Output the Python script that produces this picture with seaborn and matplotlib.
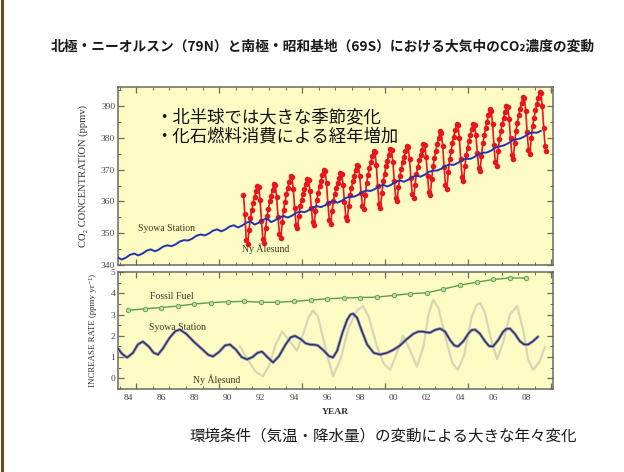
import matplotlib
matplotlib.use("Agg")
import matplotlib.pyplot as plt
from matplotlib.ticker import MultipleLocator, NullFormatter
from matplotlib.lines import Line2D
import seaborn as sns
import numpy as np
import pandas as pd

# ---------------------------------------------------------------- data
# Ny-Alesund (79N) monthly CO2, ppmv, starting June 1991
ny_start = "1991-06"
ny_co2 = [
    362.0, 356.0, 348.0, 346.5, 351.1, 354.8, 357.2,
    359.5, 361.3, 363.2, 365.0, 364.6, 360.5, 353.8, 348.3, 347.0, 351.6, 355.3, 357.7,
    360.0, 361.8, 363.7, 365.5, 365.1, 361.3, 355.0, 349.7, 348.5, 353.4, 357.3, 359.8,
    362.2, 364.1, 366.1, 368.0, 367.6, 363.9, 357.8, 352.7, 351.5, 355.4, 358.5, 360.5,
    362.4, 363.9, 365.5, 367.0, 366.6, 363.4, 358.0, 353.5, 352.5, 356.9, 360.4, 362.7,
    364.8, 366.5, 368.3, 370.0, 369.6, 365.8, 359.5, 354.2, 353.0, 357.0, 360.2, 362.3,
    364.2, 365.8, 367.4, 369.0, 368.6, 365.3, 359.7, 355.1, 354.0, 358.4, 361.9, 364.2,
    366.3, 368.0, 369.8, 371.5, 371.1, 368.0, 362.8, 358.5, 357.5, 362.1, 365.8, 368.2,
    370.5, 372.3, 374.2, 376.0, 375.6, 371.5, 364.8, 359.3, 358.0, 362.6, 366.3, 368.7,
    371.0, 372.8, 374.7, 376.5, 376.1, 372.4, 366.3, 361.2, 360.0, 364.4, 367.9, 370.2,
    372.3, 374.0, 375.8, 377.5, 377.1, 373.4, 367.3, 362.2, 361.0, 365.3, 368.7, 370.9,
    372.9, 374.6, 376.3, 378.0, 377.6, 374.0, 368.1, 363.1, 362.0, 367.0, 371.0, 373.6,
    376.0, 378.0, 380.0, 382.0, 381.6, 377.5, 370.8, 365.3, 364.0, 369.1, 373.2, 375.9,
    378.4, 380.4, 382.5, 384.5, 384.1, 380.0, 373.3, 367.8, 366.5, 371.0, 374.6, 376.9,
    379.1, 380.9, 382.7, 384.5, 384.1, 380.8, 375.2, 370.6, 369.5, 374.4, 378.3, 380.8,
    383.2, 385.1, 387.1, 389.0, 388.6, 384.5, 377.8, 372.3, 371.0, 375.8, 379.6, 382.0,
    384.3, 386.2, 388.1, 390.0, 389.6, 385.9, 379.8, 374.7, 373.5, 378.4, 382.3, 384.8,
    387.2, 389.1, 391.1, 393.0, 392.6, 388.5, 381.8, 376.3, 375.0, 379.9, 383.8, 386.3,
    388.7, 390.6, 392.6, 394.5, 394.1, 389.9, 383.0, 377.3, 376.0,
]

# Syowa Station (69S) CO2, ppmv, every three months from November 1983
syowa_start = "1983-11"
syowa_co2 = [
    342.4,
    341.7, 342.3, 343.2, 343.6,
    343.0, 343.6, 344.5, 344.9,
    344.3, 344.9, 345.8, 346.2,
    345.9, 346.5, 347.4, 347.8,
    347.7, 348.3, 349.2, 349.6,
    349.3, 349.9, 350.8, 351.2,
    350.6, 351.2, 352.1, 352.5,
    351.8, 352.4, 353.3, 353.7,
    352.7, 353.3, 354.2, 354.6,
    353.5, 354.1, 355.0, 355.4,
    354.9, 355.5, 356.4, 356.8,
    356.6, 357.2, 358.1, 358.5,
    358.2, 358.8, 359.7, 360.1,
    359.6, 360.2, 361.1, 361.5,
    361.5, 362.1, 363.0, 363.4,
    363.3, 363.9, 364.8, 365.2,
    364.7, 365.3, 366.2, 366.6,
    366.2, 366.8, 367.7, 368.1,
    367.8, 368.4, 369.3, 369.7,
    369.7, 370.3, 371.2, 371.6,
    371.5, 372.1, 373.0, 373.4,
    373.4, 374.0, 374.9, 375.3,
    375.4, 376.0, 376.9, 377.3,
    377.6, 378.2, 379.1, 379.5,
    379.8, 380.4, 381.3, 381.7,
    381.6, 382.2,
]

# CO2 increase expected from fossil fuel emissions, ppmv/yr
fossil_years = list(range(1984, 2009))
fossil_rate = [3.20, 3.27, 3.33, 3.40, 3.50, 3.56, 3.60, 3.62, 3.58, 3.58,
               3.62, 3.68, 3.74, 3.78, 3.80, 3.82, 3.90, 3.98, 4.02, 4.20,
               4.38, 4.52, 4.65, 4.72, 4.72]

# Growth rate at Syowa Station, ppmv/yr
syowa_rate_t = [1983.85, 1984.15, 1984.45, 1984.8, 1985.1, 1985.4, 1985.75, 1986.05,
                1986.31, 1986.6, 1987.0, 1987.35, 1987.63, 1988.0, 1988.5, 1989.0,
                1989.35, 1989.62, 1990.0, 1990.35, 1990.65, 1991.0, 1991.35, 1991.67,
                1992.0, 1992.3, 1992.57, 1992.9, 1993.24, 1993.6, 1994.0, 1994.3,
                1994.56, 1994.9, 1995.2, 1995.47, 1995.75, 1995.95, 1996.3, 1996.6,
                1996.85, 1997.1, 1997.4, 1997.7, 1997.9, 1998.06, 1998.3, 1998.6,
                1998.9, 1999.3, 1999.68, 2000.1, 2000.5, 2000.89, 2001.3, 2001.7,
                2002.0, 2002.27, 2002.5, 2002.7, 2003.0, 2003.3, 2003.6, 2003.9,
                2004.15, 2004.38, 2004.7, 2005.0, 2005.2, 2005.41, 2005.7, 2006.0,
                2006.25, 2006.49, 2006.8, 2007.1, 2007.3, 2007.51, 2007.8, 2008.1,
                2008.35, 2008.6, 2008.9, 2009.2]
syowa_rate = [1.45, 1.15, 0.98, 1.20, 1.60, 1.73, 1.50, 1.20,
              1.12, 1.40, 1.90, 2.22, 2.29, 2.10, 1.70, 1.35,
              1.10, 1.03, 1.25, 1.55, 1.59, 1.35, 1.00, 0.89,
              1.00, 1.20, 1.26, 1.00, 0.75, 1.05, 1.60, 1.93,
              2.00, 1.85, 1.65, 1.59, 1.58, 1.54, 1.30, 1.05,
              0.98, 1.30, 2.10, 2.75, 3.00, 3.04, 2.85, 2.20,
              1.60, 1.20, 1.12, 1.20, 1.35, 1.55, 1.85, 2.10,
              2.20, 2.20, 2.16, 2.15, 2.28, 2.34, 2.20, 1.80,
              1.55, 1.50, 1.75, 2.10, 2.27, 2.29, 2.10, 1.75,
              1.52, 1.50, 1.80, 2.20, 2.33, 2.34, 2.10, 1.75,
              1.60, 1.59, 1.75, 1.96]

# Growth rate at Ny-Alesund, ppmv/yr
ny_rate_t = [1991.25, 1991.7, 1992.2, 1992.63, 1993.0, 1993.4, 1993.78, 1994.2,
             1994.68, 1995.1, 1995.4, 1995.65, 1995.95, 1996.4, 1996.85, 1997.3,
             1997.8, 1998.3, 1998.66, 1999.0, 1999.5, 1999.9, 2000.29, 2000.7,
             2001.07, 2001.5, 2001.91, 2002.3, 2002.6, 2002.88, 2003.2, 2003.7,
             2004.05, 2004.38, 2004.75, 2005.2, 2005.5, 2005.71, 2006.0, 2006.35,
             2006.73, 2007.1, 2007.5, 2007.94, 2008.3, 2008.6, 2008.9, 2009.3, 2009.62]
ny_rate = [1.5, 0.9, 0.3, 0.1, 0.6, 1.6, 2.2, 1.8,
           1.3, 2.2, 2.9, 3.2, 2.9, 1.4, 0.1, 0.9,
           2.4, 3.2, 3.4, 2.9, 1.5, 0.7, 0.4, 1.2,
           2.0, 1.3, 0.55, 1.5, 3.0, 3.7, 3.3, 1.7,
           0.7, 0.4, 1.1, 2.9, 3.45, 3.55, 3.1, 1.9,
           0.9, 1.7, 3.0, 3.4, 2.3, 0.9, 0.4, 0.8, 1.5]

year_labels = ["84", "86", "88", "90", "92", "94", "96", "98",
               "00", "02", "04", "06", "08"]


def decimal_years(start, n, step_months):
    dates = pd.date_range(start=start, periods=n, freq=f"{step_months}MS")
    return dates.year + (dates.month - 0.5) / 12.0


ny_df = pd.DataFrame({"year": decimal_years(ny_start, len(ny_co2), 1), "co2": ny_co2})
syowa_df = pd.DataFrame({"year": decimal_years(syowa_start, len(syowa_co2), 3), "co2": syowa_co2})
fossil_df = pd.DataFrame({"year": np.array(fossil_years) + 0.5, "rate": fossil_rate})
syowa_rate_df = pd.DataFrame({"year": syowa_rate_t, "rate": syowa_rate})
ny_rate_df = pd.DataFrame({"year": ny_rate_t, "rate": ny_rate})

# ---------------------------------------------------------------- style
sns.set_theme(style="white")
plt.rcParams["font.family"] = ["Noto Sans CJK JP", "DejaVu Sans"]
SERIF = ["Liberation Serif", "DejaVu Serif"]
PANEL = "#fdfbc4"
SPINE = "#6a6a60"
INK = "#3c3a22"

fig = plt.figure(figsize=(6.24, 4.72), dpi=100)
fig.patch.set_facecolor("white")

# left frame line of the slide
fig.add_artist(Line2D([0.004, 0.004], [0, 1], transform=fig.transFigure,
                      color="#6b4a2a", lw=2.2))

ax1 = fig.add_axes([0.1891, 0.4386, 0.6971, 0.3771])
ax2 = fig.add_axes([0.1891, 0.1758, 0.6971, 0.2479])

for ax in (ax1, ax2):
    ax.set_facecolor(PANEL)
    ax.set_xlim(1983.9, 2010.1)
    for s in ax.spines.values():
        s.set_color(SPINE)
        s.set_linewidth(1.1)
    ax.xaxis.set_major_locator(MultipleLocator(5))
    ax.xaxis.set_minor_locator(MultipleLocator(1))
    ax.xaxis.set_major_formatter(NullFormatter())
    ax.tick_params(which="both", direction="in", top=True, right=True,
                   bottom=True, left=True, color=SPINE, labelcolor="#444444",
                   labelsize=6.8, pad=2)
    ax.tick_params(which="major", length=4, width=0.9)
    ax.tick_params(which="minor", length=2, width=0.7)

# ---------------------------------------------------------------- upper panel
sns.lineplot(data=ny_df, x="year", y="co2", ax=ax1, color="#e8161c", lw=1.2,
             marker="o", markersize=4.0, markeredgewidth=0, estimator=None, zorder=3)
sns.lineplot(data=syowa_df, x="year", y="co2", ax=ax1, color="#2233b0", lw=1.4,
             estimator=None, zorder=4)
ax1.set_ylim(340, 396)
ax1.yaxis.set_major_locator(MultipleLocator(10))
ax1.yaxis.set_minor_locator(MultipleLocator(5))
ax1.set_xlabel("")
ax1.set_ylabel("CO₂ CONCENTRATION (ppmv)", family=SERIF, fontsize=7.6,
               color="#333333", labelpad=9)
for lab in ax1.get_yticklabels():
    lab.set_family(SERIF)
ax1.text(1985.1, 351.6, "Syowa Station", family=SERIF, fontsize=7, color=INK,
         va="center", ha="left")
ax1.text(1991.35, 345.0, "Ny Ålesund", family=SERIF, fontsize=7, color=INK,
         va="center", ha="left")

# ---------------------------------------------------------------- lower panel
sns.lineplot(data=ny_rate_df, x="year", y="rate", ax=ax2, color="#d8d6b6", lw=1.6,
             estimator=None, zorder=2)
sns.lineplot(data=fossil_df, x="year", y="rate", ax=ax2, color="#5c9e45", lw=1.0,
             marker="o", markersize=3.2, markerfacecolor="#b9d9a6",
             markeredgecolor="#5c9e45", markeredgewidth=0.6, estimator=None, zorder=3)
sns.lineplot(data=syowa_rate_df, x="year", y="rate", ax=ax2, color="#9a9a9a", lw=2.2,
             estimator=None, zorder=3)
sns.lineplot(data=syowa_rate_df, x="year", y="rate", ax=ax2, color="#2c2a80", lw=1.0,
             estimator=None, zorder=4)
ax2.set_ylim(-0.5, 5.0)
ax2.yaxis.set_major_locator(MultipleLocator(1))
ax2.yaxis.set_minor_locator(MultipleLocator(0.5))
ax2.set_xlabel("YEAR", family=SERIF, fontsize=6.8, fontweight="bold",
               color="#333333", labelpad=12)
ax2.set_ylabel("INCREASE RATE (ppmv yr⁻¹)", family=SERIF, fontsize=6.4,
               color="#333333", labelpad=10)
for lab in ax2.get_yticklabels():
    lab.set_family(SERIF)
for i, lab in enumerate(year_labels):
    ax2.text(1984.5 + 2 * i, -0.04, lab, transform=ax2.get_xaxis_transform(),
             family=SERIF, fontsize=6.8, color="#444444", ha="center", va="top")
ax2.text(1985.8, 3.85, "Fossil Fuel", family=SERIF, fontsize=7, color=INK,
         va="center", ha="left")
ax2.text(1985.75, 2.4, "Syowa Station", family=SERIF, fontsize=7, color=INK,
         va="center", ha="left")
ax2.text(1988.4, -0.05, "Ny Ålesund", family=SERIF, fontsize=7, color=INK,
         va="center", ha="left")

# ---------------------------------------------------------------- slide text
fig.text(323 / 624, 1 - 47 / 472,
         "北極・ニーオルスン（79N）と南極・昭和基地（69S）における大気中のCO₂濃度の変動",
         ha="center", va="center", fontsize=9.9, fontweight="bold", color="#1a1a1a")
fig.text(155 / 624, 1 - 117 / 472, "・北半球では大きな季節変化",
         ha="left", va="center", fontsize=12.5, color="#111111")
fig.text(155 / 624, 1 - 137 / 472, "・化石燃料消費による経年増加",
         ha="left", va="center", fontsize=12.5, color="#111111")
fig.text(190 / 624, 1 - 437 / 472, "環境条件（気温・降水量）の変動による大きな年々変化",
         ha="left", va="center", fontsize=11.2, color="#1a1a1a")

fig.savefig("out.png", dpi=100, facecolor="white")
